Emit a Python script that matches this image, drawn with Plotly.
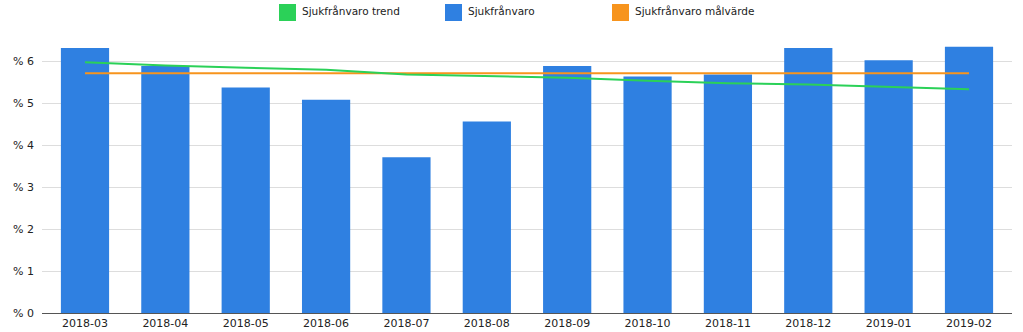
import plotly.graph_objects as go

months = ["2018-03", "2018-04", "2018-05", "2018-06", "2018-07", "2018-08",
          "2018-09", "2018-10", "2018-11", "2018-12", "2019-01", "2019-02"]
sick_leave = [6.31, 5.88, 5.37, 5.08, 3.71, 4.56, 5.88, 5.63, 5.68, 6.31, 6.02, 6.34]
trend = [5.97, 5.89, 5.84, 5.79, 5.68, 5.64, 5.60, 5.53, 5.47, 5.44, 5.39, 5.33]
target = [5.71] * 12
y_ticks = [0, 1, 2, 3, 4, 5, 6]
y_tick_labels = ["% " + str(v) for v in y_ticks]

BLUE = "#2f80e1"
GREEN = "#2bd158"
ORANGE = "#f7941d"
FONT = "DejaVu Sans"

fig = go.Figure()
fig.add_trace(go.Bar(x=months, y=sick_leave, name="Sjukfrånvaro",
                     marker=dict(color=BLUE, line=dict(width=0))))
fig.add_trace(go.Scatter(x=months, y=target, name="Sjukfrånvaro målvärde",
                         mode="lines", line=dict(color=ORANGE, width=2)))
fig.add_trace(go.Scatter(x=months, y=trend, name="Sjukfrånvaro trend",
                         mode="lines", line=dict(color=GREEN, width=2)))

W, H = 1023, 332
L, R, T, B = 42, 11, 40, 19
pw, ph = W - L - R, H - T - B


def px2paper_x(px):
    return (px - L) / pw


def px2paper_y(py):
    return (H - B - py) / ph


legend_items = [("Sjukfrånvaro trend", GREEN, 279),
                ("Sjukfrånvaro", BLUE, 445),
                ("Sjukfrånvaro målvärde", ORANGE, 612)]
shapes = []
annotations = []
for label, color, x0 in legend_items:
    shapes.append(dict(type="rect", xref="paper", yref="paper",
                       x0=px2paper_x(x0), x1=px2paper_x(x0 + 17),
                       y0=px2paper_y(21), y1=px2paper_y(4),
                       fillcolor=color, line=dict(width=0)))
    annotations.append(dict(xref="paper", yref="paper", x=px2paper_x(x0 + 21),
                            y=px2paper_y(11.5), xanchor="left", yanchor="middle",
                            text=label, showarrow=False,
                            font=dict(family=FONT, size=10.5, color="#222")))

fig.update_layout(
    width=W, height=H,
    margin=dict(l=L, r=R, t=T, b=B, pad=0, autoexpand=False),
    paper_bgcolor="white", plot_bgcolor="white",
    showlegend=False,
    bargap=0.4,
    font=dict(family=FONT, size=11, color="#333"),
    shapes=shapes, annotations=annotations,
    xaxis=dict(type="category", range=[-0.535, 11.535], showgrid=False,
               showline=True, linecolor="#555", linewidth=1,
               ticks="", automargin=False,
               tickfont=dict(family=FONT, size=11, color="#222"),
               fixedrange=True),
    yaxis=dict(range=[0, 6.5], tickmode="array", tickvals=y_ticks,
               ticktext=y_tick_labels,
               showgrid=True, gridcolor="#dddddd", gridwidth=1,
               zeroline=False, showline=False, ticks="", automargin=False,
               ticklabelstandoff=7,
               tickfont=dict(family=FONT, size=11, color="#222"),
               fixedrange=True),
)

fig.write_html("out.html", config={"displayModeBar": False})
